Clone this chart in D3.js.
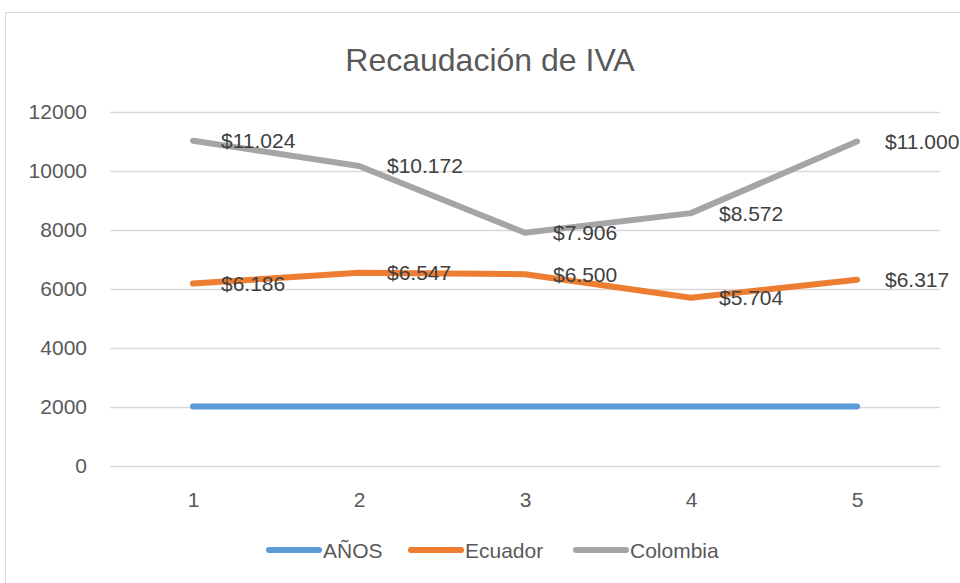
<!DOCTYPE html>
<html>
<head>
<meta charset="utf-8">
<script src="https://cdn.jsdelivr.net/npm/d3@7"></script>
<style>
  body { margin: 0; background: #fff; }
  svg { display: block; font-family: "Liberation Sans", Arial, sans-serif; }
</style>
</head>
<body>
<div id="chart"></div>
<script>
// chart data
const categories = [1, 2, 3, 4, 5];
const anos = [2015, 2016, 2017, 2018, 2019];
const ecuador = [6186, 6547, 6500, 5704, 6317];
const colombia = [11024, 10172, 7906, 8572, 11000];
const yTicks = [0, 2000, 4000, 6000, 8000, 10000, 12000];
const seriesNames = ["AÑOS", "Ecuador", "Colombia"];

const series = [
    { name: seriesNames[0], values: anos, color: "#5b9bd5", labels: false },
    { name: seriesNames[1], values: ecuador, color: "#ed7d31", labels: true },
    { name: seriesNames[2], values: colombia, color: "#a5a5a5", labels: true }
];

const width = 960, height = 583;
const plot = { left: 110, right: 940, top: 112, bottom: 466 };

const svg = d3.select("#chart").append("svg")
    .attr("width", width)
    .attr("height", height);

// outer chart border (runs off the right / bottom edge)
svg.append("rect")
    .attr("x", 5.5).attr("y", 12.5)
    .attr("width", 1000).attr("height", 700)
    .attr("fill", "#fff")
    .attr("stroke", "#d9d9d9");

svg.append("text")
    .attr("x", 490).attr("y", 71)
    .attr("text-anchor", "middle")
    .attr("fill", "#595959")
    .style("font-size", "32px")
    .text("Recaudación de IVA");

const x = d3.scalePoint()
    .domain(categories)
    .range([plot.left, plot.right])
    .padding(0.5);

const y = d3.scaleLinear()
    .domain([0, 12000])
    .range([plot.bottom, plot.top]);

// gridlines + y labels
const yAxis = svg.append("g")
    .attr("transform", `translate(${plot.left},0)`)
    .call(d3.axisLeft(y).tickValues(yTicks).tickFormat(d3.format("d"))
        .tickSize(-(plot.right - plot.left)).tickPadding(23));
yAxis.select(".domain").remove();
yAxis.selectAll(".tick line").attr("stroke", "#d9d9d9").attr("stroke-width", 1.3);
yAxis.selectAll(".tick text")
    .attr("fill", "#595959")
    .style("font-size", "21px")
    .style("font-family", "Liberation Sans, Arial, sans-serif");

// x labels
const xAxis = svg.append("g")
    .attr("transform", `translate(0,${plot.bottom})`)
    .call(d3.axisBottom(x).tickSize(0).tickPadding(26));
xAxis.select(".domain").remove();
xAxis.selectAll(".tick text")
    .attr("fill", "#595959")
    .style("font-size", "21px")
    .style("font-family", "Liberation Sans, Arial, sans-serif");

const line = d3.line()
    .x((d, i) => x(categories[i]))
    .y(d => y(d));

svg.append("g").selectAll("path")
    .data(series)
    .join("path")
    .attr("d", d => line(d.values))
    .attr("fill", "none")
    .attr("stroke", d => d.color)
    .attr("stroke-width", 6)
    .attr("stroke-linecap", "round")
    .attr("stroke-linejoin", "round");

// data labels, to the right of each point
const es = d3.formatLocale({ decimal: ",", thousands: ".", grouping: [3], currency: ["$", ""] });
const fmt = es.format("$,");

series.filter(s => s.labels).forEach(s => {
    svg.append("g").selectAll("text")
        .data(s.values)
        .join("text")
        .attr("x", (d, i) => x(categories[i]) + 28)
        .attr("y", d => y(d))
        .attr("dy", "0.36em")
        .attr("fill", "#404040")
        .style("font-size", "21px")
        .text(d => fmt(d));
});

// legend
const legendX = [267, 409, 574];
const legend = svg.append("g").selectAll("g")
    .data(series)
    .join("g")
    .attr("transform", (d, i) => `translate(${legendX[i]},550)`);
legend.append("line")
    .attr("x1", 2).attr("x2", 52)
    .attr("stroke", d => d.color)
    .attr("stroke-width", 6)
    .attr("stroke-linecap", "round");
legend.append("text")
    .attr("x", 56)
    .attr("dy", "0.36em")
    .attr("fill", "#595959")
    .style("font-size", "21px")
    .text(d => d.name);
</script>
</body>
</html>
